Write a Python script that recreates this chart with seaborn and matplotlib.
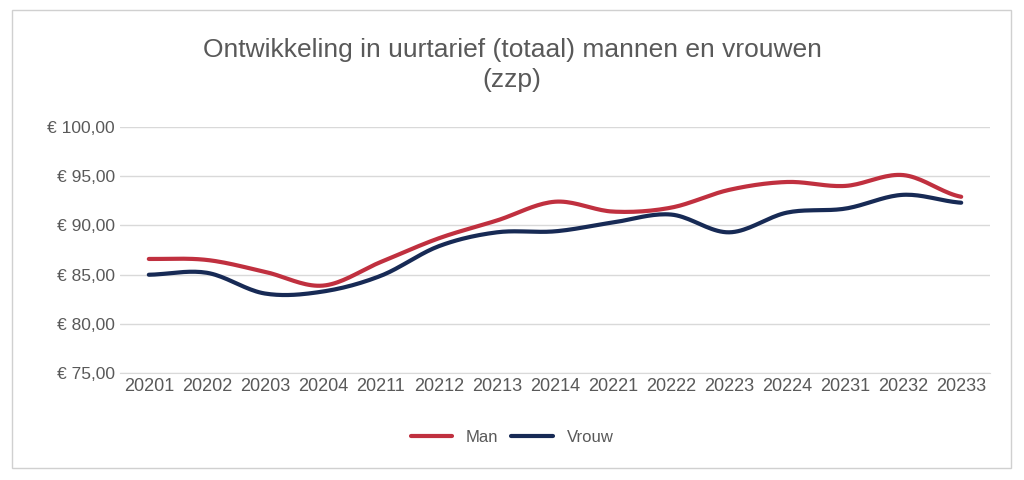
import numpy as np
import pandas as pd
import seaborn as sns
import matplotlib.pyplot as plt
from matplotlib.patches import Rectangle

periods = ["20201", "20202", "20203", "20204", "20211", "20212", "20213", "20214",
           "20221", "20222", "20223", "20224", "20231", "20232", "20233"]
man = [86.6, 86.5, 85.3, 83.9, 86.3, 88.7, 90.5, 92.4, 91.4, 91.8, 93.6, 94.4, 94.0, 95.1, 92.9]
vrouw = [85.0, 85.2, 83.1, 83.3, 84.9, 87.9, 89.3, 89.4, 90.3, 91.1, 89.3, 91.3, 91.7, 93.1, 92.3]

colors = {"Man": "#c0303f", "Vrouw": "#172a55"}


def smooth(y, n=20):
    # Catmull-Rom curve through the points, for the rounded line look
    y = np.asarray(y, dtype=float)
    p = np.concatenate([[y[0]], y, [y[-1]]])
    xs, ys = [], []
    for i in range(len(y) - 1):
        t = np.linspace(0, 1, n, endpoint=False)
        p0, p1, p2, p3 = p[i], p[i + 1], p[i + 2], p[i + 3]
        seg = 0.5 * ((2 * p1) + (-p0 + p2) * t + (2 * p0 - 5 * p1 + 4 * p2 - p3) * t ** 2
                     + (-p0 + 3 * p1 - 3 * p2 + p3) * t ** 3)
        xs.append(i + t)
        ys.append(seg)
    xs.append([len(y) - 1])
    ys.append([y[-1]])
    return np.concatenate(xs), np.concatenate(ys)


rows = []
for name, vals in [("Man", man), ("Vrouw", vrouw)]:
    sx, sy = smooth(vals)
    rows.append(pd.DataFrame({"x": sx, "y": sy, "serie": name}))
df = pd.concat(rows)

sns.set_style("white")
plt.rcParams["font.family"] = ["Liberation Sans", "DejaVu Sans"]
fig = plt.figure(figsize=(10.24, 4.8), dpi=100)
fig.patches.append(Rectangle((0.012, 0.025), 0.975, 0.955, transform=fig.transFigure,
                             fill=False, edgecolor="#d0d0d0", lw=1))
ax = fig.add_axes([0.117, 0.222, 0.85, 0.514])

sns.lineplot(data=df, x="x", y="y", hue="serie", palette=colors, linewidth=3,
             sort=False, estimator=None, ax=ax, legend=False)

ax.set_ylim(75, 100)
ax.set_xlim(-0.5, len(periods) - 0.5)
ax.set_yticks(range(75, 101, 5))
ax.set_yticklabels([f"€ {v},00" for v in range(75, 101, 5)], color="#595959", fontsize=12.5)
ax.set_xticks(range(len(periods)))
ax.set_xticklabels(periods, color="#595959", fontsize=13)
ax.tick_params(length=0)
ax.yaxis.grid(True, color="#d9d9d9", lw=1)
for s in ["top", "right", "left"]:
    ax.spines[s].set_visible(False)
ax.spines["bottom"].set_color("#d9d9d9")
ax.set_xlabel("")
ax.set_ylabel("")

fig.text(0.5, 0.865, "Ontwikkeling in uurtarief (totaal) mannen en vrouwen\n(zzp)",
         ha="center", va="center", fontsize=19, color="#595959", linespacing=1.3)

handles = [plt.Line2D([], [], color=colors[k], lw=3) for k in ["Man", "Vrouw"]]
fig.legend(handles, ["Man", "Vrouw"], loc="center", bbox_to_anchor=(0.5, 0.088), ncol=2,
           frameon=False, fontsize=12, handlelength=2.5, columnspacing=0.8,
           labelcolor="#595959")

fig.savefig("out.png", dpi=100)
